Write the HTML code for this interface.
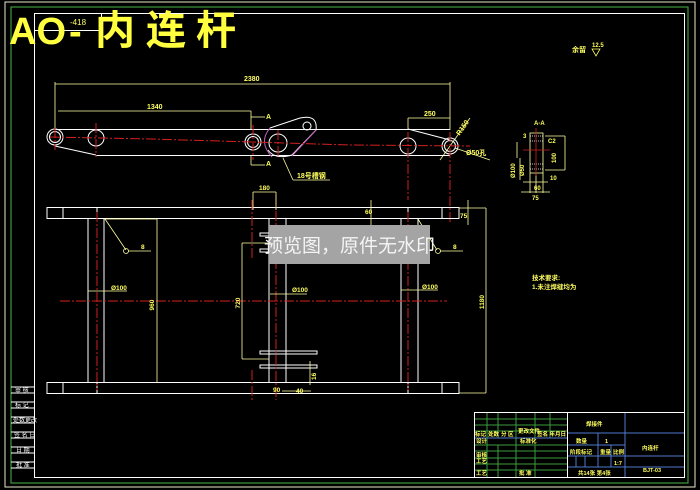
<!DOCTYPE html>
<html><head><meta charset="utf-8"><style>
html,body{margin:0;padding:0;background:#000;}
svg{display:block}
text{font-family:"Liberation Sans","Noto Sans CJK SC",sans-serif;}
</style></head><body>
<svg width="700" height="490" viewBox="0 0 700 490" xmlns="http://www.w3.org/2000/svg">
<rect width="700" height="490" fill="#000"/>
<rect x="5" y="2" width="690" height="485" fill="none" stroke="#e8e8c8" stroke-width="1"/>
<rect x="11" y="7" width="677" height="476" fill="none" stroke="#3c9a3c" stroke-width="1.2"/>
<rect x="34.5" y="13.5" width="650" height="464" fill="none" stroke="#fff" stroke-width="1"/>
<rect x="34.5" y="13.5" width="67" height="17" fill="none" stroke="#fff" stroke-width="1"/>
<text x="70" y="25" font-size="8" fill="#ffff60">-418</text>
<g stroke="#fff" stroke-width="1" fill="none">
<line x1="11" y1="387" x2="35" y2="387"/><line x1="11" y1="393" x2="35" y2="393"/>
<line x1="11" y1="402" x2="35" y2="402"/><line x1="11" y1="408" x2="35" y2="408"/>
<line x1="11" y1="417" x2="35" y2="417"/><line x1="11" y1="423" x2="35" y2="423"/>
<line x1="11" y1="432" x2="35" y2="432"/><line x1="11" y1="438" x2="35" y2="438"/>
<line x1="11" y1="447" x2="35" y2="447"/><line x1="11" y1="453" x2="35" y2="453"/>
<line x1="11" y1="462" x2="35" y2="462"/><line x1="11" y1="468" x2="35" y2="468"/>
</g>
<g fill="#fff" font-size="6"><text x="15" y="392">审 核</text><text x="15" y="407">标 记</text><text x="13" y="422">处数更改</text><text x="14" y="437">签 名 日</text><text x="16" y="452">日 期</text><text x="16" y="467">批 准</text></g>
<g fill="#ffff40" font-weight="bold">
<text x="9" y="44" font-size="38">AO</text>
<text x="69" y="44" font-size="38">-</text>
<text x="95" y="44" font-size="40" font-family="Noto Sans CJK SC,sans-serif">内</text>
<text x="146" y="44" font-size="40" font-family="Noto Sans CJK SC,sans-serif">连</text>
<text x="196" y="44" font-size="40" font-family="Noto Sans CJK SC,sans-serif">杆</text>
</g>
<g stroke="#ffffa0" stroke-width="0.8" fill="none">
<line x1="55" y1="84" x2="450" y2="84"/><line x1="55" y1="82" x2="55" y2="130"/><line x1="450" y1="82" x2="450" y2="130"/>
<line x1="58" y1="111" x2="251" y2="111"/><line x1="251" y1="111" x2="251" y2="130"/>
<line x1="408" y1="118" x2="450" y2="118"/><line x1="408" y1="118" x2="408" y2="130"/>
<line x1="251" y1="117" x2="265" y2="117"/><line x1="251" y1="165" x2="265" y2="165"/><line x1="251" y1="155" x2="251" y2="165"/>
<line x1="283" y1="158" x2="293" y2="180"/><line x1="293" y1="180" x2="330" y2="180"/>
<line x1="440" y1="160" x2="470" y2="118"/><line x1="455" y1="148" x2="490" y2="160"/>
</g>
<g fill="#ffff60" font-size="7" font-weight="bold">
<text x="244" y="81">2380</text><text x="147" y="109">1340</text><text x="424" y="116">250</text>
<text x="266" y="119">A</text><text x="266" y="166">A</text><text x="297" y="178">18号槽钢</text>
<text x="455" y="133" transform="rotate(-55 460 130)">R150</text><text x="466" y="155">Ø50孔</text>
<text x="572" y="52">余留</text><text x="592" y="47" font-size="6">12.5</text>
</g>
<path d="M592 49 L600 49 L596 56 Z" fill="none" stroke="#ffff60" stroke-width="0.8"/>
<g stroke="#fff" stroke-width="1" fill="none">
<line x1="55" y1="129.5" x2="450" y2="129.5"/>
<line x1="96" y1="155.5" x2="450" y2="155.5"/>
<line x1="55" y1="146" x2="96" y2="155"/>
<line x1="408" y1="129" x2="450" y2="140"/>
<circle cx="55" cy="137" r="8"/><circle cx="55" cy="137" r="5.5"/>
<circle cx="96" cy="138" r="8"/>
<circle cx="253" cy="142" r="8"/><circle cx="253" cy="142" r="5.5"/>
<circle cx="278" cy="143" r="9"/><circle cx="307" cy="126" r="4"/>
<circle cx="408" cy="146" r="8"/>
<circle cx="450" cy="146" r="8"/><circle cx="450" cy="146" r="5.5"/>
<path d="M270 128 L300 118 Q318 114 316 130 L292 155 Q275 160 268 150"/>
</g>
<path d="M270 128 Q258 142 272 157" stroke="#c060c0" fill="none" stroke-width="1"/>
<path d="M316 130 L292 156" stroke="#c060c0" fill="none" stroke-width="1"/>
<g stroke="#d02020" stroke-width="1" fill="none" stroke-dasharray="10 2 2 2">
<polyline points="50,137 150,139 253,142 350,145 470,146"/>
<line x1="55" y1="128" x2="55" y2="150"/><line x1="96" y1="123" x2="96" y2="157"/>
<line x1="253" y1="125" x2="253" y2="160"/><line x1="278" y1="130" x2="278" y2="158"/>
<line x1="408" y1="132" x2="408" y2="200"/><line x1="450" y1="132" x2="450" y2="222"/>
</g>
<g stroke="#fff" stroke-width="1" fill="none">
<rect x="47" y="207.5" width="16" height="11"/>
<rect x="63" y="207.5" width="379" height="11"/>
<rect x="442" y="207.5" width="17" height="11"/>
<line x1="97" y1="207" x2="97" y2="219"/><line x1="408" y1="207" x2="408" y2="219"/>
<rect x="47" y="382.5" width="16" height="11"/>
<rect x="63" y="382.5" width="379" height="11"/>
<rect x="442" y="382.5" width="17" height="11"/>
<line x1="97" y1="382" x2="97" y2="394"/><line x1="408" y1="382" x2="408" y2="394"/>
<line x1="88" y1="219" x2="88" y2="382"/><line x1="104" y1="219" x2="104" y2="382"/>
<line x1="269" y1="219" x2="269" y2="382"/><line x1="286" y1="219" x2="286" y2="382"/>
<line x1="401" y1="219" x2="401" y2="382"/><line x1="418" y1="219" x2="418" y2="382"/>
<rect x="260" y="233" width="9" height="3"/><rect x="260" y="249" width="9" height="3"/>
<rect x="260" y="351" width="57" height="3"/><rect x="260" y="365" width="57" height="3"/>
</g>
<g stroke="#d02020" stroke-width="1" fill="none" stroke-dasharray="10 2 2 2">
<line x1="60" y1="301" x2="447" y2="301"/>
<line x1="97" y1="212" x2="97" y2="390"/>
<line x1="276" y1="195" x2="276" y2="400"/><line x1="252" y1="200" x2="252" y2="260"/><line x1="252" y1="370" x2="252" y2="400"/>
<line x1="408" y1="212" x2="408" y2="390"/>
</g>
<g stroke="#ffffa0" stroke-width="0.8" fill="none">
<line x1="157" y1="219" x2="157" y2="383"/><line x1="104" y1="219" x2="157" y2="219"/>
<line x1="486" y1="208" x2="486" y2="393"/><line x1="459" y1="208" x2="486" y2="208"/><line x1="459" y1="393" x2="486" y2="393"/>
<line x1="242" y1="243" x2="242" y2="359"/><line x1="242" y1="243" x2="269" y2="243"/><line x1="242" y1="359" x2="269" y2="359"/>
<line x1="88" y1="291" x2="127" y2="291"/><line x1="270" y1="294" x2="307" y2="294"/><line x1="401" y1="290" x2="438" y2="290"/>
<line x1="105" y1="219" x2="126" y2="250"/><circle cx="126" cy="251" r="2.5"/><line x1="128" y1="251" x2="151" y2="251"/>
<line x1="418" y1="219" x2="437" y2="250"/><circle cx="438" cy="251" r="2.5"/><line x1="440" y1="251" x2="463" y2="251"/>
<line x1="253" y1="192" x2="276" y2="192"/><line x1="253" y1="192" x2="253" y2="210"/><line x1="276" y1="192" x2="276" y2="210"/>
<line x1="371" y1="200" x2="371" y2="225"/><line x1="468" y1="200" x2="468" y2="225"/>
<line x1="310" y1="361" x2="310" y2="385"/><line x1="282" y1="391" x2="311" y2="391"/>
</g>
<g fill="#ffff60" font-size="6.5" font-weight="bold">
<text x="259" y="190">180</text><text x="111" y="290">Ø100</text><text x="292" y="292">Ø100</text><text x="422" y="289">Ø100</text>
<text x="141" y="249">8</text><text x="453" y="249">8</text><text x="365" y="214">60</text><text x="460" y="218">75</text>
<text x="154" y="305" transform="rotate(-90 154 305)" text-anchor="middle">960</text>
<text x="240" y="303" transform="rotate(-90 240 303)" text-anchor="middle">720</text>
<text x="484" y="302" transform="rotate(-90 484 302)" text-anchor="middle">1180</text>
<text x="316" y="380" transform="rotate(-90 316 380)">16</text><text x="296" y="393">40</text><text x="273" y="392">90</text>
<text x="532" y="280">技术要求:</text><text x="532" y="289">1.未注焊缝均为</text>
</g>
<g stroke="#ffffa0" stroke-width="0.8" fill="none">
<rect x="530" y="133" width="13" height="40"/><line x1="536" y1="173" x2="536" y2="193"/><line x1="530" y1="173" x2="530" y2="193"/><line x1="543" y1="173" x2="543" y2="193"/>
<line x1="545" y1="136" x2="565" y2="136"/><line x1="565" y1="136" x2="565" y2="170"/><line x1="545" y1="170" x2="565" y2="170"/>
<line x1="517" y1="142" x2="517" y2="158"/><line x1="520" y1="158" x2="520" y2="180"/><line x1="523" y1="182" x2="548" y2="182"/><line x1="521" y1="192" x2="550" y2="192"/>
</g>
<g stroke="#fff" stroke-width="0.8" fill="none" stroke-dasharray="1 1"><line x1="530" y1="136" x2="543" y2="136"/><line x1="530" y1="141" x2="543" y2="141"/><line x1="530" y1="164" x2="543" y2="164"/><line x1="530" y1="169" x2="543" y2="169"/></g>
<line x1="523" y1="150" x2="550" y2="150" stroke="#d02020" stroke-width="0.8"/><line x1="536" y1="128" x2="536" y2="176" stroke="#d02020" stroke-width="0.8"/>
<g fill="#ffff60" font-size="6" font-weight="bold"><text x="534" y="125">A-A</text><text x="523" y="138">3</text><text x="548" y="143">C2</text><text x="556" y="163" transform="rotate(-90 556 163)">100</text><text x="550" y="180">10</text><text x="534" y="190">60</text><text x="532" y="200">75</text><text x="515" y="178" transform="rotate(-90 515 178)">Ø100</text><text x="524" y="176" transform="rotate(-90 524 176)">Ø50</text></g>
<rect x="269" y="225" width="161" height="39" fill="#a4a4a4"/>
<text x="349.5" y="252" font-size="19" fill="#f4f4f4" text-anchor="middle" font-family="Liberation Sans,Noto Sans CJK SC,sans-serif">预览图，原件无水印</text>
<g stroke="#3c9a3c" stroke-width="1" fill="none">
<line x1="474" y1="419" x2="567" y2="419"/><line x1="474" y1="425" x2="567" y2="425"/><line x1="474" y1="431" x2="567" y2="431"/>
<line x1="474" y1="445" x2="567" y2="445"/><line x1="474" y1="451" x2="567" y2="451"/><line x1="474" y1="458" x2="567" y2="458"/><line x1="474" y1="464" x2="567" y2="464"/><line x1="474" y1="470" x2="567" y2="470"/>
<line x1="487" y1="412" x2="487" y2="477"/><line x1="498" y1="412" x2="498" y2="438"/><line x1="516" y1="412" x2="516" y2="477"/><line x1="535" y1="412" x2="535" y2="438"/><line x1="550" y1="412" x2="550" y2="438"/>
<line x1="498" y1="445" x2="498" y2="477"/><line x1="535" y1="445" x2="535" y2="477"/>
</g>
<g stroke="#5078d0" stroke-width="1" fill="none">
<line x1="474" y1="438" x2="567" y2="438"/><line x1="567" y1="433" x2="684" y2="433"/><line x1="567" y1="445" x2="625" y2="445"/><line x1="567" y1="456" x2="625" y2="456"/><line x1="567" y1="467" x2="684" y2="467"/><line x1="625" y1="456" x2="684" y2="456"/>
<line x1="625" y1="412" x2="625" y2="477"/><line x1="598" y1="433" x2="598" y2="467"/><line x1="611" y1="445" x2="611" y2="467"/>
<line x1="576" y1="456" x2="576" y2="467"/><line x1="585" y1="456" x2="585" y2="467"/>
</g>
<g stroke="#fff" stroke-width="1" fill="none"><line x1="474.5" y1="412" x2="474.5" y2="477"/><line x1="474" y1="412.5" x2="684" y2="412.5"/><line x1="567.5" y1="412" x2="567.5" y2="477"/></g>
<g fill="#ffff60" font-size="5.5" font-weight="bold">
<text x="586" y="426">焊接件</text><text x="576" y="443">数量</text><text x="605" y="443">1</text><text x="642" y="450">内连杆</text>
<text x="570" y="454">阶段标记</text><text x="600" y="454">重量</text><text x="613" y="454">比例</text><text x="614" y="465">1:7</text>
<text x="578" y="475">共14张 第4张</text><text x="643" y="472">BJT-03</text>
<text x="475" y="436">标记</text><text x="488" y="436">处数</text><text x="501" y="436">分 区</text><text x="518" y="433">更改文件</text><text x="537" y="436">签名 年月日</text>
<text x="476" y="443">设计</text><text x="520" y="443">标准化</text><text x="476" y="457">审核</text><text x="476" y="463">工艺</text><text x="476" y="475">工艺</text><text x="519" y="475">批 准</text>
</g>
</svg>
</body></html>
